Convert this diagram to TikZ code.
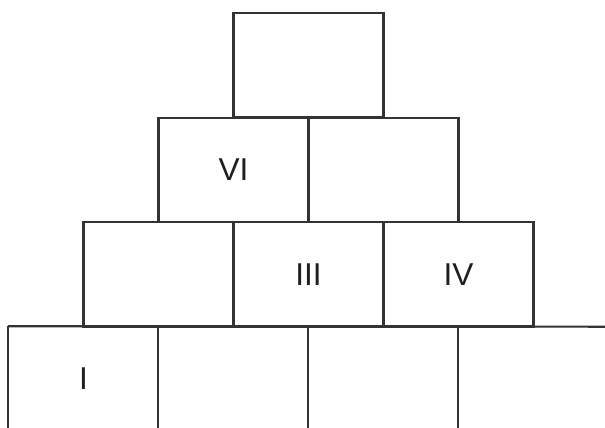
\documentclass[tikz,border=0pt]{standalone}
\usepackage{fontspec}
\setmainfont{Liberation Sans}
\begin{document}
\begin{tikzpicture}[x=0.02cm, y=-0.02cm,
  every node/.style={font=\fontsize{18}{20}\selectfont, text=black!88},
  cell/.style={rectangle, draw=black!80, line width=1.2pt, minimum width=3cm,
    minimum height=2.09cm, inner sep=0pt},
  open/.style={rectangle, minimum width=3cm, minimum height=2.09cm, inner sep=0pt},
  edge/.style={draw=black!80, line width=1.2pt}]
  \useasboundingbox (0,0) rectangle (605,427);
  % Pyramid of cells:        t
  %                        a   b
  %                      c   d   e
  %                    f   g   h   k  (bottom row cut off)
  \node[cell] (t) at (308.5,65.3) {};
  \node[cell] (a) at (233.5,169.8) {VI};
  \node[cell] (b) at (383.5,169.8) {};
  \node[cell] (c) at (158.5,274.3) {};
  \node[cell] (d) at (308.5,274.3) {III};
  \node[cell] (e) at (458.5,274.3) {IV};
  \node[open] (f) at (83.5,378.8) {I};
  \node[open] (g) at (233.5,378.8) {};
  \node[open] (h) at (383.5,378.8) {};
  \node[open] (k) at (533.5,378.8) {};
  % Open bottom row: top line to the right edge, sides run off the page
  \coordinate (rend) at (605,326.7);
  \draw[edge] (f.north west) -- (rend);
  \draw[edge] (f.north west) -- (f.south west);
  \draw[edge] (g.north west) -- (g.south west);
  \draw[edge] (h.north west) -- (h.south west);
  \draw[edge] (k.north west) -- (k.south west);
\end{tikzpicture}
\end{document}
